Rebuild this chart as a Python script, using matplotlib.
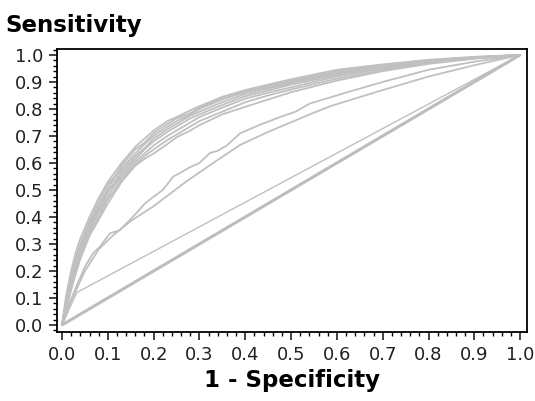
import matplotlib.pyplot as plt
from matplotlib.ticker import MultipleLocator

# false positive rate grid shared by the bundle of ROC curves
fpr_grid = [0, .01, .02, .03, .04, .06, .08, .10, .115, .13, .16, .18, .20, .23, .25, .28, .30,
            .35, .40, .45, .50, .60, .70, .80, .90, 1.0]

bundle_tpr = [
    [0, .12, .20, .27, .32, .40, .47, .53, .565, .60, .66, .69, .72, .755, .77, .795, .81, .845, .87, .89, .91, .945, .965, .982, .993, 1],
    [0, .11, .18, .25, .30, .385, .455, .52, .55, .59, .65, .675, .71, .745, .765, .785, .805, .84, .866, .885, .905, .94, .962, .98, .992, 1],
    [0, .10, .17, .24, .29, .375, .44, .505, .545, .58, .635, .67, .70, .735, .755, .78, .80, .835, .862, .88, .90, .935, .96, .978, .99, 1],
    [0, .09, .16, .23, .28, .37, .435, .495, .53, .57, .625, .655, .69, .725, .745, .775, .79, .825, .855, .875, .895, .93, .957, .976, .99, 1],
    [0, .09, .155, .22, .275, .36, .425, .49, .525, .56, .615, .65, .68, .715, .735, .765, .78, .815, .847, .868, .89, .925, .955, .975, .989, 1],
    [0, .08, .15, .21, .265, .35, .415, .475, .515, .55, .605, .635, .665, .70, .72, .75, .77, .805, .838, .86, .88, .92, .95, .972, .988, 1],
    [0, .07, .14, .20, .255, .34, .40, .465, .50, .54, .595, .625, .65, .685, .705, .735, .755, .79, .825, .85, .872, .912, .945, .97, .987, 1],
    [0, .06, .13, .19, .245, .33, .39, .45, .49, .53, .59, .615, .635, .67, .695, .72, .74, .78, .808, .835, .862, .905, .94, .967, .986, 1],
]

# empirical (stepped) curve
emp_fpr = [0, .01, .028, .05, .068, .083, .095, .105, .125, .141, .16, .181, .2, .22, .243,
           .26, .28, .3, .323, .34, .36, .389, .43, .476, .51, .541, .58, .629, .7, .8, .9, 1]
emp_tpr = [0, .05, .13, .216, .266, .29, .318, .34, .35, .377, .41, .45, .475, .50, .55,
           .565, .585, .60, .637, .645, .665, .71, .74, .77, .79, .82, .84, .865, .9, .945, .975, 1]

# smooth lower curve
smooth_fpr = [0, .02, .05, .08, .11, .15, .2, .27, .33, .389, .45, .541, .585, .629, .7, .8, .9, 1]
smooth_tpr = [0, .09, .2, .28, .33, .385, .44, .53, .6, .667, .715, .78, .81, .833, .87, .92, .962, 1]

# single cut-point curve
cut_fpr = [0, .032, 1]
cut_tpr = [0, .12, 1]

ref_fpr = [0, 1]
ref_tpr = [0, 1]

GREY = '#c0c0c0'

fig = plt.figure(figsize=(5.35, 4.01), dpi=100)
ax = fig.add_axes([57 / 535, 69 / 401, 470 / 535, 283 / 401])

ax.plot(ref_fpr, ref_tpr, color='#bdbdbd', lw=2.2, solid_capstyle='butt')
ax.plot(cut_fpr, cut_tpr, color=GREY, lw=1.0)
ax.plot(smooth_fpr, smooth_tpr, color=GREY, lw=1.3)
ax.plot(emp_fpr, emp_tpr, color=GREY, lw=1.3)
for tpr in bundle_tpr:
    ax.plot(fpr_grid, tpr, color=GREY, lw=1.3)

ax.set_xlim(-0.011, 1.015)
ax.set_ylim(-0.026, 1.022)

ax.xaxis.set_major_locator(MultipleLocator(0.1))
ax.xaxis.set_minor_locator(MultipleLocator(0.02))
ax.yaxis.set_major_locator(MultipleLocator(0.1))
ax.yaxis.set_minor_locator(MultipleLocator(0.02))
ax.xaxis.set_major_formatter(lambda v, p: f'{v:.1f}')
ax.yaxis.set_major_formatter(lambda v, p: f'{v:.1f}')

ax.tick_params(which='major', length=6, width=1.2, labelsize=13, colors='#222222', pad=4)
ax.tick_params(which='minor', length=3, width=1.0)
for s in ax.spines.values():
    s.set_linewidth(1.3)

fig.text(5 / 535, 1 - 14 / 401, 'Sensitivity', fontsize=16.5, fontweight='bold', va='top', ha='left')
ax.set_xlabel('1 - Specificity', fontsize=16.5, fontweight='bold', labelpad=4)

fig.savefig('out.png', dpi=100)
